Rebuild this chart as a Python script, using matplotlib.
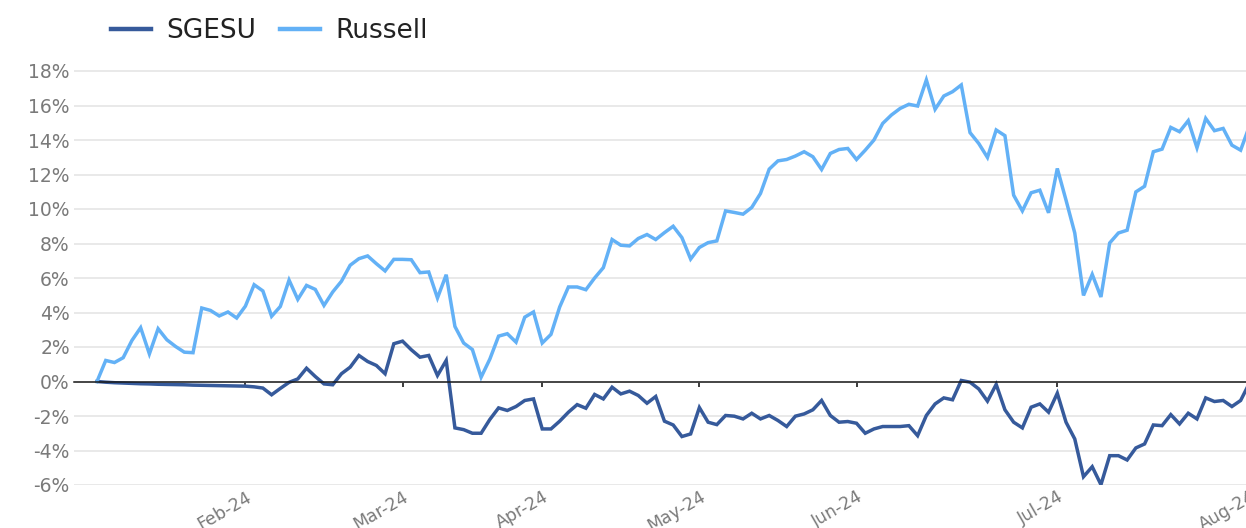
import matplotlib
matplotlib.use("Agg")
import matplotlib.pyplot as plt
from matplotlib.ticker import FuncFormatter
from matplotlib.lines import Line2D

# ---------------- data ----------------
series_names = ["SGESU", "Russell"]

sgesu = [
    0.00, -0.04, -0.07, -0.09, -0.11, -0.13, -0.14, -0.16, -0.17, -0.18,
    -0.19, -0.21, -0.22, -0.23, -0.24, -0.25, -0.26, -0.27, -0.31, -0.38,
    -0.77, -0.40, -0.05, 0.15, 0.77, 0.29, -0.14, -0.19, 0.45, 0.83,
    1.51, 1.16, 0.93, 0.45, 2.19, 2.34, 1.84, 1.41, 1.51, 0.35,
    1.22, -2.69, -2.79, -3.00, -3.00, -2.20, -1.53, -1.68, -1.45, -1.10,
    -1.01, -2.75, -2.75, -2.30, -1.78, -1.34, -1.55, -0.75, -1.01, -0.33,
    -0.72, -0.56, -0.81, -1.26, -0.87, -2.30, -2.52, -3.19, -3.04, -1.51,
    -2.36, -2.50, -1.97, -2.01, -2.17, -1.84, -2.17, -1.97, -2.26, -2.61,
    -2.01, -1.88, -1.64, -1.10, -1.97, -2.36, -2.32, -2.42, -3.00, -2.75,
    -2.61, -2.61, -2.61, -2.56, -3.14, -1.97, -1.30, -0.95, -1.06, 0.06,
    -0.04, -0.43, -1.14, -0.17, -1.64, -2.36, -2.69, -1.49, -1.30, -1.78,
    -0.68, -2.36, -3.33, -5.52, -4.94, -5.98, -4.30, -4.30, -4.55, -3.85,
    -3.62, -2.52, -2.56, -1.92, -2.46, -1.84, -2.17, -0.95, -1.16, -1.10,
    -1.45, -1.10, -0.10,
]

russell = [
    0.00, 1.22, 1.10, 1.38, 2.38, 3.12, 1.60, 3.06, 2.42, 2.03,
    1.70, 1.67, 4.26, 4.12, 3.80, 4.03, 3.68, 4.37, 5.61, 5.25,
    3.78, 4.35, 5.88, 4.76, 5.57, 5.34, 4.41, 5.19, 5.81, 6.74,
    7.12, 7.28, 6.83, 6.41, 7.08, 7.08, 7.06, 6.31, 6.35, 4.84,
    6.19, 3.19, 2.23, 1.85, 0.25, 1.30, 2.63, 2.77, 2.28, 3.73,
    4.03, 2.23, 2.73, 4.32, 5.48, 5.48, 5.32, 6.00, 6.60, 8.23,
    7.90, 7.86, 8.29, 8.52, 8.23, 8.63, 9.00, 8.34, 7.10, 7.77,
    8.05, 8.15, 9.89, 9.80, 9.70, 10.09, 10.90, 12.31, 12.79, 12.87,
    13.07, 13.32, 13.03, 12.29, 13.22, 13.45, 13.51, 12.87, 13.41, 14.00,
    14.96, 15.45, 15.83, 16.07, 15.97, 17.48, 15.78, 16.55, 16.80, 17.19,
    14.43, 13.80, 12.99, 14.58, 14.25, 10.80, 9.89, 10.94, 11.09, 9.78,
    12.35, 10.51, 8.61, 4.99, 6.21, 4.90, 8.03, 8.61, 8.77, 10.99,
    11.32, 13.32, 13.47, 14.73, 14.48, 15.12, 13.55, 15.25, 14.54, 14.67,
    13.70, 13.41, 14.80,
]

# trading-day index of each month label
tick_positions = [17, 35, 51, 69, 87, 110, 132]
tick_labels = ["Feb-24", "Mar-24", "Apr-24", "May-24", "Jun-24", "Jul-24", "Aug-24"]
y_ticks = [-6, -4, -2, 0, 2, 4, 6, 8, 10, 12, 14, 16, 18]

# ---------------- style ----------------
colors = {"SGESU": "#365A9B", "Russell": "#63B1F6"}
label_gray = "#7a7a7a"
grid_gray = "#e3e3e3"

W, H = 1246, 528
fig = plt.figure(figsize=(W / 100, H / 100), dpi=100)
fig.patch.set_facecolor("white")

ax_left_px, ax_right_px = 74, 1250
ax_bottom_px, ax_top_px = 485, 62
ax = fig.add_axes([ax_left_px / W, 1 - ax_bottom_px / H,
                   (ax_right_px - ax_left_px) / W, (ax_bottom_px - ax_top_px) / H])

step_px = 8.73
first_px = 97
ax.set_xlim((ax_left_px - first_px) / step_px, (ax_right_px - first_px) / step_px)
px_per_pct = (485 - 71) / 24.0
ax.set_ylim(-6, 18 + (71 - ax_top_px) / px_per_pct)

xs = list(range(len(russell)))
ax.plot(xs, sgesu, color=colors["SGESU"], lw=2.5, zorder=3, solid_joinstyle="miter")
ax.plot(xs, russell, color=colors["Russell"], lw=2.5, zorder=4, solid_joinstyle="miter")

# grid
ax.set_yticks(y_ticks)
ax.yaxis.set_major_formatter(FuncFormatter(lambda v, p: f"{int(round(v))}%"))
ax.yaxis.grid(True, color=grid_gray, lw=1.1)
ax.xaxis.grid(False)
ax.set_axisbelow(True)
ax.tick_params(axis="y", length=0, pad=3, labelsize=13.5, labelcolor=label_gray)

for s in ["left", "right", "top"]:
    ax.spines[s].set_visible(False)
ax.spines["bottom"].set_position(("data", 0))
ax.spines["bottom"].set_color("#1a1a1a")
ax.spines["bottom"].set_linewidth(1.1)
ax.spines["bottom"].set_zorder(5)

ax.set_xticks(tick_positions)
ax.tick_params(axis="x", direction="out", length=3.4, width=1.2, color="#1a1a1a",
               labelbottom=False)

# month labels at the bottom of the plot
sec = ax.secondary_xaxis("bottom")
sec.set_xticks(tick_positions, labels=tick_labels)
sec.tick_params(length=0, pad=2, labelsize=12.5, labelcolor=label_gray)
sec.spines["bottom"].set_visible(False)
for lab in sec.get_xticklabels():
    lab.set_rotation(30)
    lab.set_ha("right")
    lab.set_rotation_mode("anchor")

# legend
handles = [Line2D([], [], color=colors[n], lw=3.2) for n in series_names]
fig.legend(handles, series_names, loc="center left",
           bbox_to_anchor=(111 / W, 1 - 31 / H), ncol=2, frameon=False,
           fontsize=19, handlelength=1.5, handletextpad=0.6, columnspacing=0.9,
           borderpad=0, borderaxespad=0, labelcolor="#222222")

fig.savefig("out.png", dpi=100, facecolor="white")
